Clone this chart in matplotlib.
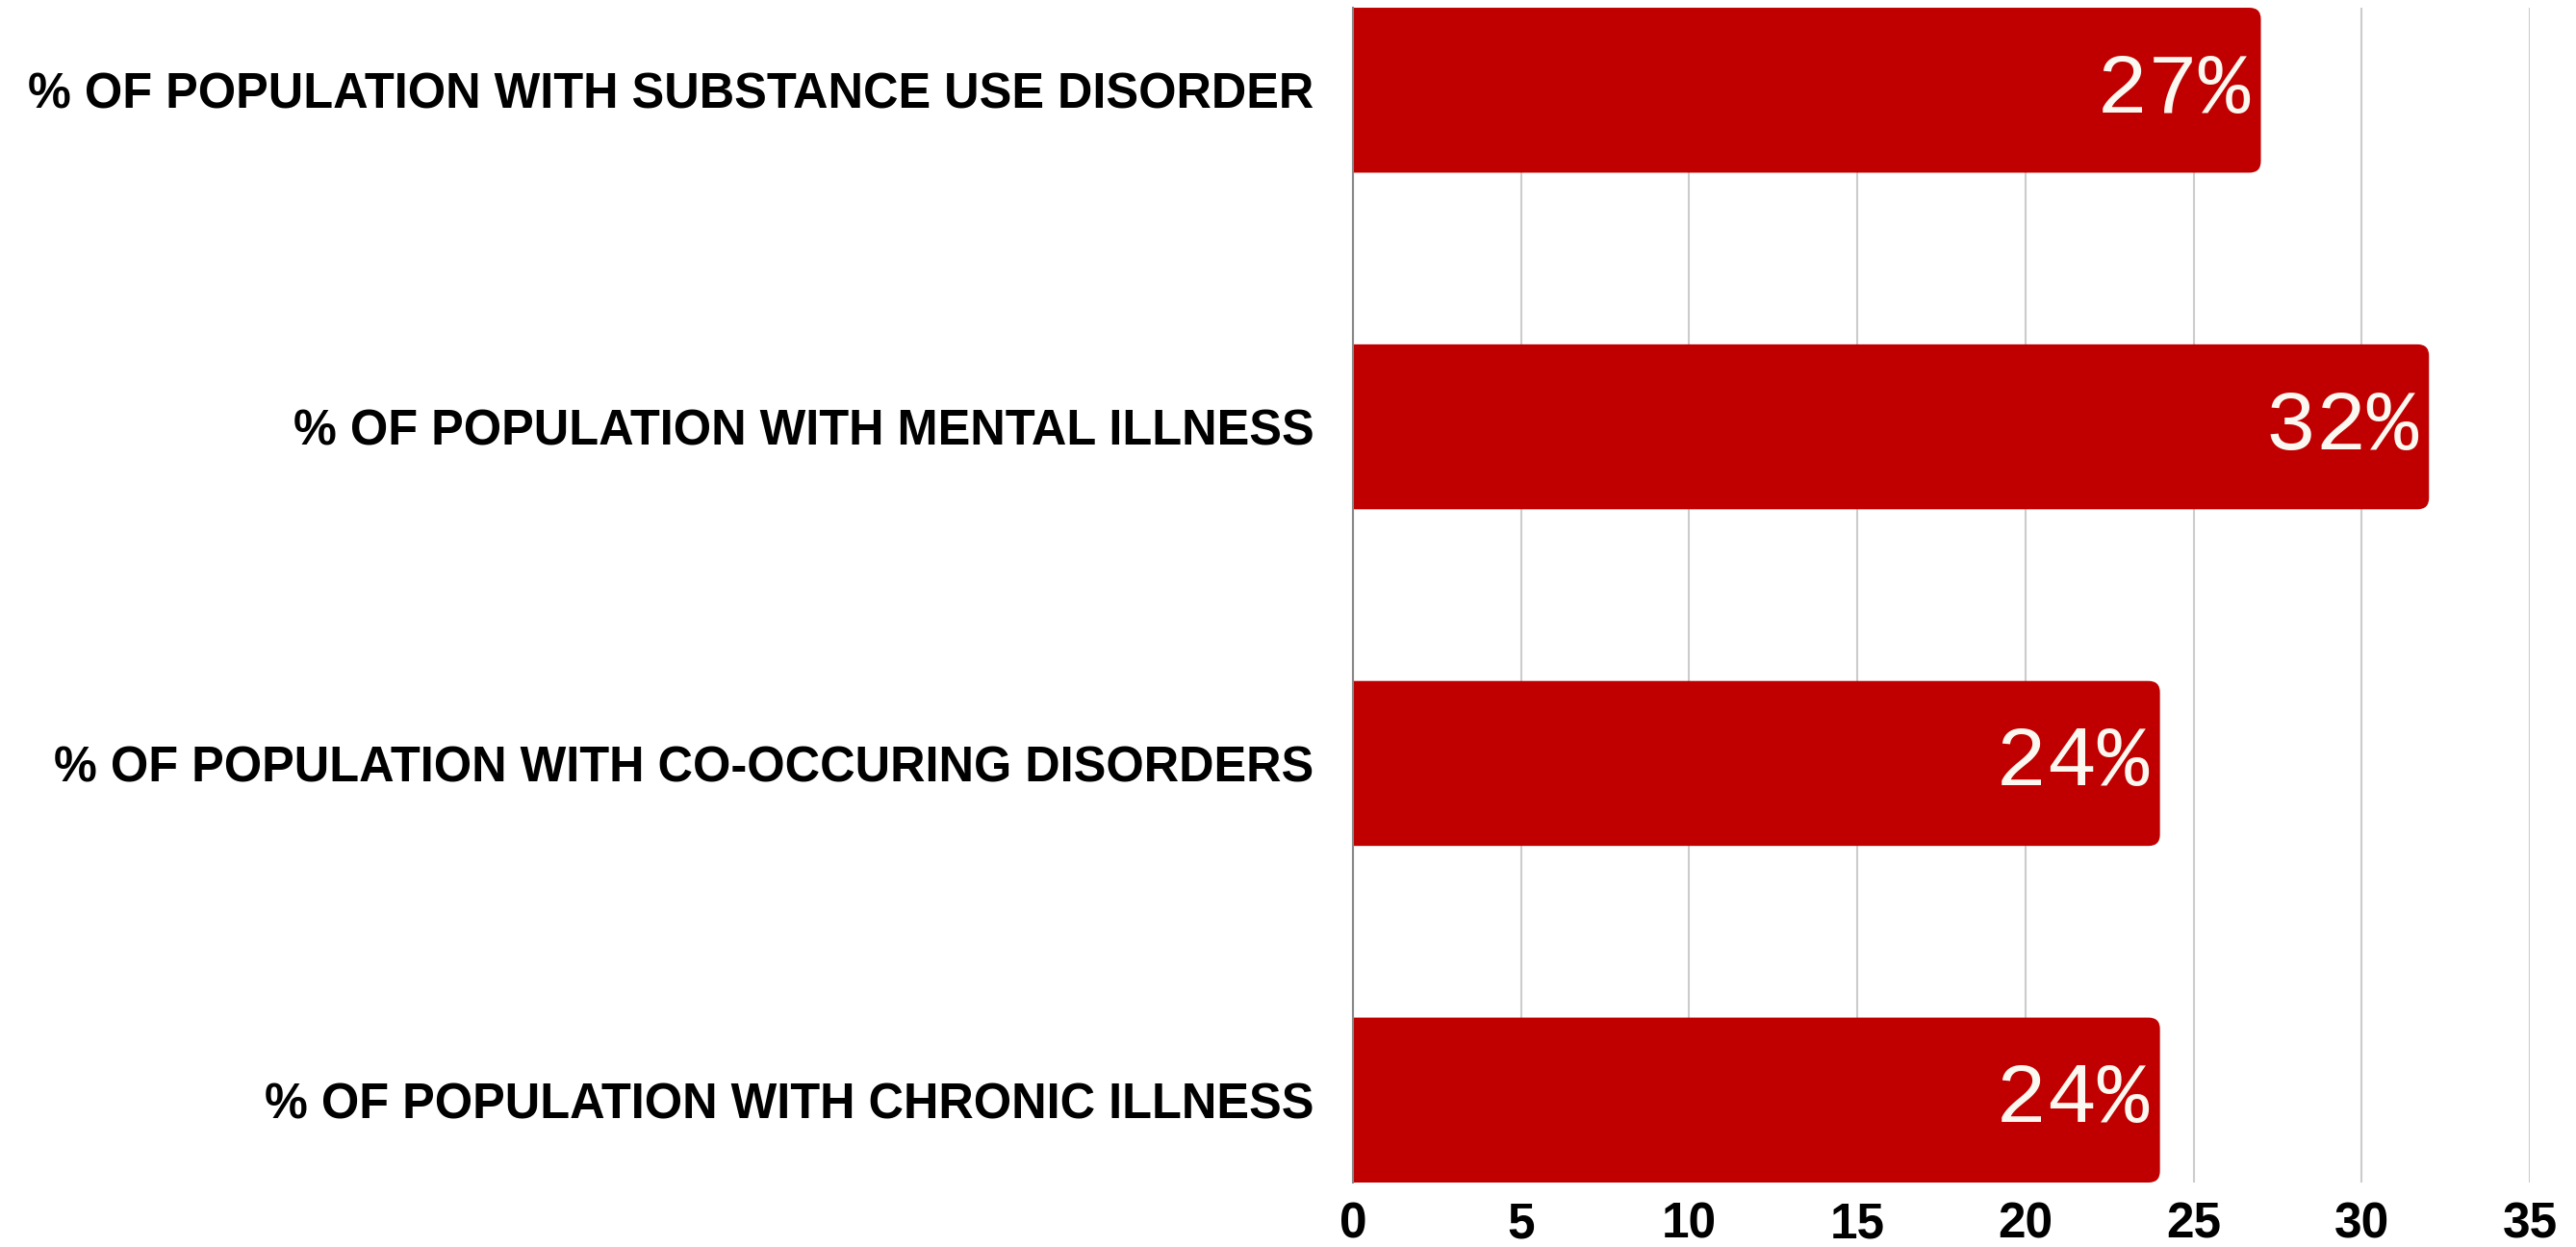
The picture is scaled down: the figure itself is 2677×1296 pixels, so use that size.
import matplotlib
matplotlib.use("Agg")
import matplotlib.pyplot as plt
from matplotlib.patches import FancyBboxPatch

categories = [
    "% OF POPULATION WITH SUBSTANCE USE DISORDER",
    "% OF POPULATION WITH MENTAL ILLNESS",
    "% OF POPULATION WITH CO-OCCURING DISORDERS",
    "% OF POPULATION WITH CHRONIC ILLNESS",
]
values = [27, 32, 24, 24]
value_labels = ["27%", "32%", "24%", "24%"]
xticks = [0, 5, 10, 15, 20, 25, 30, 35]

bar_color = "#C00000"
label_font = ["Liberation Sans", "DejaVu Sans"]

fig = plt.figure(figsize=(26.77, 12.96), dpi=100)
ax = fig.add_axes([0.5252, 0.0517, 0.4569, 0.9421])

h = 0.49
ypos = list(range(len(categories)))
bars = ax.barh(ypos, values, height=h, color=bar_color, zorder=3)

# rounded right corners: replace the plain rectangles
for b in bars:
    x0, y0 = b.get_x(), b.get_y()
    w, hh = b.get_width(), b.get_height()
    b.set_visible(False)
    p = FancyBboxPatch((x0 - 1, y0), w + 1, hh,
                       boxstyle="round,pad=0,rounding_size=0.34",
                       mutation_aspect=0.1, fc=bar_color, ec="none",
                       zorder=3, clip_on=True)
    ax.add_patch(p)

for y, v, t in zip(ypos, values, value_labels):
    ax.text(v - 0.3, y, t, ha="right", va="center", fontsize=64,
            family=["Liberation Mono", "DejaVu Sans Mono"],
            color="#FAF8F0", zorder=4)

ax.set_xlim(0, 35)
ax.set_ylim(len(categories) - 1 + h / 2, -h / 2)
ax.set_xticks(xticks)
ax.set_xticklabels([str(t) for t in xticks], fontsize=37, fontweight="bold",
                   family=label_font)
ax.set_yticks(ypos)
ax.set_yticklabels(categories, fontsize=36.4, fontweight="bold", family=label_font)
ax.tick_params(axis="x", length=0, pad=14)
ax.tick_params(axis="y", length=0, pad=29)

ax.grid(axis="x", color="#CCCCCC", linewidth=1.5, zorder=0)
ax.set_axisbelow(True)
for s in ["top", "right", "bottom"]:
    ax.spines[s].set_visible(False)
ax.spines["left"].set_color("#888888")
ax.spines["left"].set_linewidth(1.5)
ax.spines["left"].set_zorder(5)

fig.savefig("out.png", dpi=100, facecolor="white")
